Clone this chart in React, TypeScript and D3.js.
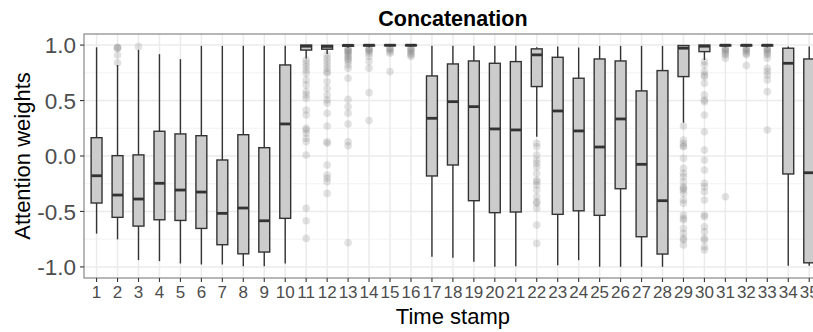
import React from "react";
import * as d3 from "d3";

const categories = Array.from({ length: 35 }, (_, i) => String(i + 1));

const whiskerLow = [
  -0.70, -0.752, -0.939, -0.948, -0.969, -0.978, -0.978, -0.993, -0.993, -0.969,
  0.88, 0.92, 0.975, 0.98, 0.985, 0.985, -0.909, -0.918, -0.954, -0.999,
  -0.993, 0.174, -0.984, -0.939, -0.999, -0.999, -0.999, -0.999, 0.301, 0.866,
  0.98, 0.98, 0.98, -0.99, -0.99,
];
const q1 = [
  -0.424, -0.553, -0.632, -0.575, -0.581, -0.653, -0.80, -0.882, -0.866, -0.562,
  0.955, 0.963, 0.99, 0.993, 0.995, 0.995, -0.18, -0.081, -0.403, -0.511,
  -0.505, 0.626, -0.526, -0.494, -0.535, -0.295, -0.728, -0.884, 0.716, 0.941,
  0.993, 0.993, 0.993, -0.162, -0.963,
];
const medians = [
  -0.178, -0.352, -0.388, -0.246, -0.307, -0.325, -0.517, -0.469, -0.584, 0.289,
  0.99, 0.988, 0.998, 0.999, 0.999, 0.999, 0.34, 0.49, 0.445, 0.244,
  0.235, 0.912, 0.406, 0.226, 0.081, 0.334, -0.075, -0.403, 0.972, 0.99,
  0.999, 0.999, 0.999, 0.836, -0.151,
];
const q3 = [
  0.165, 0.003, 0.01, 0.223, 0.199, 0.183, -0.036, 0.192, 0.075, 0.821,
  1.0, 0.998, 1.0, 1.0, 1.0, 1.0, 0.722, 0.83, 0.857, 0.836,
  0.851, 0.966, 0.89, 0.701, 0.875, 0.857, 0.587, 0.77, 0.996, 1.0,
  1.0, 1.0, 1.0, 0.972, 0.875,
];
const whiskerHigh = [
  0.98, 0.82, 0.957, 0.918, 0.873, 0.993, 0.993, 0.993, 0.993, 0.993,
  1.0, 1.0, 1.0, 1.0, 1.0, 1.0, 0.993, 0.993, 0.993, 0.993,
  0.993, 0.98, 0.987, 0.978, 0.993, 0.993, 0.993, 0.993, 1.0, 1.0,
  1.0, 1.0, 1.0, 0.987, 0.987,
];
const outliers: number[][] = [
  [],
  [0.98, 0.975, 0.97, 0.91, 0.84],
  [0.986],
  [], [], [], [], [], [], [],
  [0.866, 0.837, 0.806, 0.776, 0.746, 0.686, 0.641, 0.58, 0.551, 0.521, 0.415, 0.37, 0.25, 0.235, 0.205, 0.16, 0.129, 0.009, -0.472, -0.584, -0.743],
  [0.912, 0.882, 0.851, 0.821, 0.791, 0.761, 0.746, 0.671, 0.611, 0.551, 0.505, 0.476, 0.385, 0.271, 0.129, 0.115, -0.081, -0.171, -0.201, -0.232, -0.337],
  [0.972, 0.96, 0.95, 0.941, 0.93, 0.912, 0.9, 0.882, 0.87, 0.851, 0.821, 0.791, 0.701, 0.512, 0.445, 0.385, 0.289, 0.129, 0.093, -0.782],
  [0.97, 0.963, 0.955, 0.945, 0.927, 0.9, 0.851, 0.791, 0.571, 0.319],
  [0.975, 0.965, 0.955, 0.941, 0.927, 0.761],
  [0.975, 0.965, 0.955, 0.941, 0.925, 0.912, 0.897],
  [], [], [], [], [],
  [0.115, 0.084, 0.009, -0.036, -0.066, -0.097, -0.156, -0.217, -0.232, -0.262, -0.307, -0.367, -0.412, -0.427, -0.472, -0.623, -0.788],
  [], [], [], [], [], [],
  [0.271, 0.144, 0.115, 0.093, 0.084, -0.021, -0.111, -0.156, -0.187, -0.232, -0.277, -0.292, -0.307, -0.337, -0.397, -0.427, -0.532, -0.562, -0.578, -0.653, -0.698, -0.743, -0.758, -0.803],
  [0.851, 0.821, 0.761, 0.731, 0.716, 0.656, 0.551, 0.505, 0.49, 0.37, 0.219, 0.054, -0.036, -0.126, -0.246, -0.277, -0.322, -0.397, -0.532, -0.548, -0.638, -0.683, -0.743, -0.758, -0.819, -0.848],
  [0.975, 0.965, 0.955, 0.941, 0.925, 0.912, 0.882, -0.367],
  [0.975, 0.965, 0.955, 0.941, 0.925, 0.912, 0.816],
  [0.975, 0.965, 0.955, 0.941, 0.925, 0.912, 0.882, 0.791, 0.761, 0.731, 0.686, 0.58, 0.235],
  [], [],
];

const yTicks = [-1, -0.5, 0, 0.5, 1];
const yTickLabels = ["-1.0", "-0.5", "0.0", "0.5", "1.0"];
const yMinor = [-0.75, -0.25, 0.25, 0.75];
const title = "Concatenation";
const xTitle = "Time stamp";
const yTitle = "Attention weights";

const W = 813;
const H = 332;
const panel = { left: 84, right: 821.8, top: 34, bottom: 278 };
const FONT = "'Liberation Sans', Arial, Helvetica, sans-serif";

export default function App() {
  const x = d3.scalePoint<string>().domain(categories).range([panel.left, panel.right]).padding(0.6);
  const y = d3.scaleLinear().domain([-1.1, 1.1]).range([panel.bottom, panel.top]);
  const bw = x.step() * 0.52;

  return (
    <svg width={W} height={H} style={{ position: "absolute", left: 0, top: 0, background: "#fff" }}>
      <rect x={0} y={0} width={W} height={H} fill="#fff" />
      {yMinor.map((v) => (
        <line key={"mi" + v} x1={panel.left} x2={panel.right} y1={y(v)} y2={y(v)} stroke="#EFEFEF" strokeWidth={0.8} />
      ))}
      {yTicks.map((v) => (
        <line key={"ma" + v} x1={panel.left} x2={panel.right} y1={y(v)} y2={y(v)} stroke="#EBEBEB" strokeWidth={1.5} />
      ))}
      {categories.map((c) => (
        <line key={"vg" + c} x1={x(c)} x2={x(c)} y1={panel.top} y2={panel.bottom} stroke="#EBEBEB" strokeWidth={1.5} />
      ))}
      {categories.map((c, i) =>
        outliers[i].map((v, j) => (
          <circle key={"o" + c + "-" + j} cx={x(c)} cy={y(v)} r={3.8} fill="#7a7a7a" fillOpacity={0.22} />
        ))
      )}
      {categories.map((c, i) => {
        const cx = x(c) as number;
        return (
          <g key={"b" + c}>
            <line x1={cx} x2={cx} y1={y(whiskerHigh[i])} y2={y(q3[i])} stroke="#333" strokeWidth={1.4} />
            <line x1={cx} x2={cx} y1={y(q1[i])} y2={y(whiskerLow[i])} stroke="#333" strokeWidth={1.4} />
            <rect
              x={cx - bw / 2}
              y={y(q3[i])}
              width={bw}
              height={Math.max(0.5, y(q1[i]) - y(q3[i]))}
              fill="#CCCCCC"
              stroke="#333"
              strokeWidth={1.4}
            />
            <line x1={cx - bw / 2} x2={cx + bw / 2} y1={y(medians[i])} y2={y(medians[i])} stroke="#333" strokeWidth={2.8} />
          </g>
        );
      })}
      <rect
        x={panel.left}
        y={panel.top}
        width={panel.right - panel.left}
        height={panel.bottom - panel.top}
        fill="none"
        stroke="#888"
        strokeWidth={1.2}
      />
      {yTicks.map((v, i) => (
        <g key={"yt" + v}>
          <line x1={panel.left - 4} x2={panel.left} y1={y(v)} y2={y(v)} stroke="#333" strokeWidth={1.1} />
          <text x={panel.left - 8} y={y(v)} dy="0.36em" textAnchor="end" fontFamily={FONT} fontSize={22.5} fill="#4D4D4D">
            {yTickLabels[i]}
          </text>
        </g>
      ))}
      {categories.map((c) => (
        <g key={"xt" + c}>
          <line x1={x(c)} x2={x(c)} y1={panel.bottom} y2={panel.bottom + 4} stroke="#333" strokeWidth={1.1} />
          <text x={x(c)} y={298} textAnchor="middle" fontFamily={FONT} fontSize={17} fill="#4D4D4D">
            {c}
          </text>
        </g>
      ))}
      <text x={(panel.left + panel.right) / 2} y={324} textAnchor="middle" fontFamily={FONT} fontSize={22} fill="#000">
        {xTitle}
      </text>
      <text
        transform={`translate(30, ${(panel.top + panel.bottom) / 2}) rotate(-90)`}
        textAnchor="middle"
        fontFamily={FONT}
        fontSize={22}
        fill="#000"
      >
        {yTitle}
      </text>
      <text x={(panel.left + panel.right) / 2} y={26} textAnchor="middle" fontFamily={FONT} fontSize={21.5} fontWeight="bold" fill="#000">
        {title}
      </text>
    </svg>
  );
}
